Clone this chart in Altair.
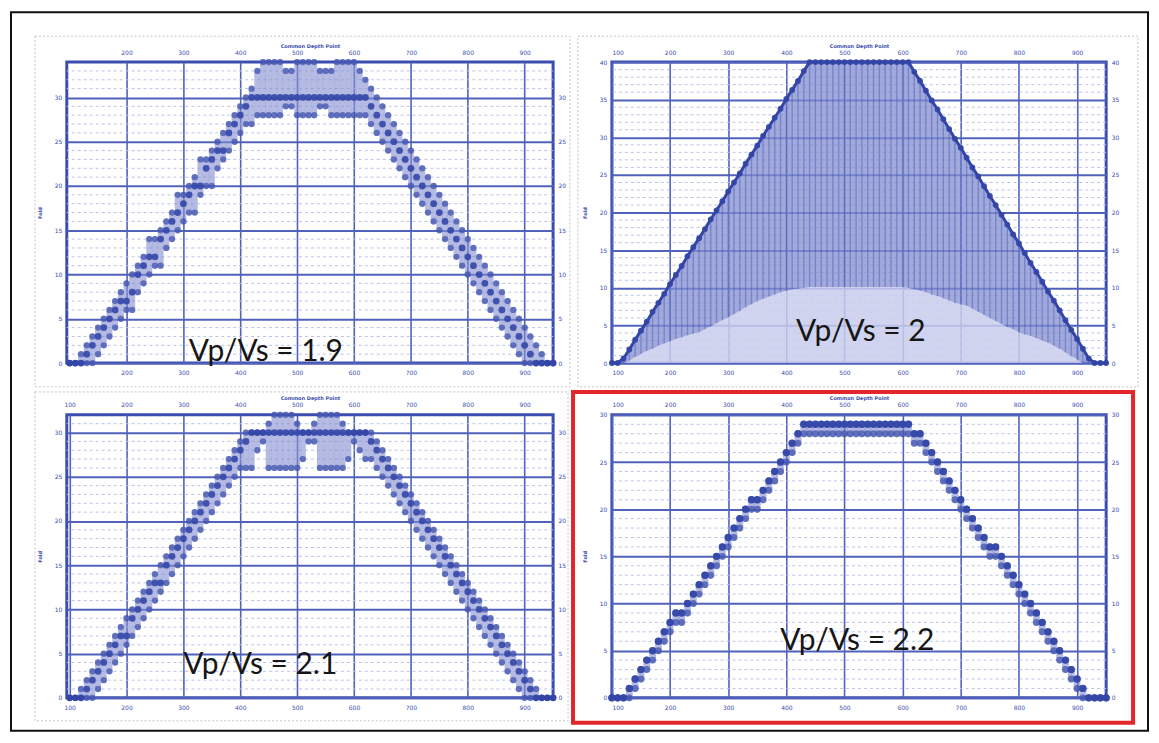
import altair as alt
import pandas as pd

# ---------------- data ----------------
cdp = [100, 110, 120, 130, 140, 150, 160, 170, 180, 190,
       200, 210, 220, 230, 240, 250, 260, 270, 280, 290,
       300, 310, 320, 330, 340, 350, 360, 370, 380, 390,
       400, 410, 420, 430, 440, 450, 460, 470, 480, 490,
       500, 510, 520, 530, 540, 550, 560, 570, 580, 590,
       600, 610, 620, 630, 640, 650, 660, 670, 680, 690,
       700, 710, 720, 730, 740, 750, 760, 770, 780, 790,
       800, 810, 820, 830, 840, 850, 860, 870, 880, 890,
       900, 910, 920, 930, 940, 950]

# Vp/Vs = 1.9
p1_mid = [0, 0, 0, 1, 2, 3, 4, 5, 6, 7,
          7, 8, 10, 11, 12, 12, 14, 15, 16, 17,
          18, 19, 20, 20, 22, 23, 24, 24, 26, 27,
          28, 29, 30, 30, 30, 30, 30, 30, 30, 30,
          30, 30, 30, 30, 30, 30, 30, 30, 30, 30,
          30, 30, 30, 29, 28, 27, 26, 25, 24, 23,
          22, 21, 20, 19, 18, 17, 16, 15, 14, 13,
          12, 11, 10, 9, 8, 7, 6, 5, 4, 3,
          2, 1, 0, 0, 0, 0]
p1_lo = [0, 0, 0, 0, 0, 1, 2, 3, 4, 5,
         6, 6, 8, 9, 10, 11, 11, 13, 14, 15,
         16, 17, 17, 19, 20, 20, 22, 23, 24, 25,
         26, 27, 27, 28, 28, 28, 28, 28, 29, 29,
         28, 28, 28, 28, 29, 29, 28, 28, 28, 28,
         28, 28, 28, 27, 26, 25, 24, 23, 22, 21,
         20, 19, 18, 17, 16, 15, 14, 13, 12, 11,
         10, 9, 8, 7, 6, 5, 4, 3, 2, 1,
         0, 0, 0, 0, 0, 0]
p1_hi = [0, 0, 1, 2, 3, 4, 5, 6, 7, 8,
         9, 10, 11, 12, 14, 14, 15, 16, 17, 19,
         19, 20, 21, 23, 23, 24, 25, 26, 27, 28,
         29, 30, 31, 33, 34, 34, 34, 34, 33, 33,
         34, 34, 34, 34, 33, 33, 33, 34, 34, 34,
         34, 33, 32, 31, 30, 29, 28, 27, 26, 25,
         24, 23, 22, 21, 20, 19, 18, 17, 16, 15,
         14, 13, 12, 11, 10, 9, 8, 7, 6, 5,
         4, 3, 2, 1, 0, 0]

# Vp/Vs = 2
p2_top = [0, 0, 0.6, 1.8, 3.1, 4.3, 5.5, 6.8, 8.0, 9.2,
          10.5, 11.7, 12.9, 14.2, 15.4, 16.6, 17.8, 19.1, 20.3, 21.5,
          22.8, 24.0, 25.2, 26.5, 27.7, 28.9, 30.2, 31.4, 32.6, 33.8,
          35.1, 36.3, 37.5, 38.8, 40, 40, 40, 40, 40, 40,
          40, 40, 40, 40, 40, 40, 40, 40, 40, 40,
          40, 40, 38.7, 37.5, 36.2, 34.9, 33.7, 32.4, 31.1, 29.8,
          28.6, 27.3, 26.0, 24.8, 23.5, 22.2, 21.0, 19.7, 18.4, 17.1,
          15.9, 14.6, 13.3, 12.1, 10.8, 9.5, 8.3, 7.0, 5.7, 4.4,
          3.2, 1.9, 0.6, 0, 0, 0]
p2_low = [0, 0, 0, 0.3, 0.8, 1.2, 1.6, 1.9, 2.3, 2.6,
          2.9, 3.2, 3.4, 3.7, 3.9, 4.1, 4.5, 4.9, 5.3, 5.7,
          6.1, 6.5, 6.9, 7.4, 7.8, 8.2, 8.5, 8.8, 9.1, 9.4,
          9.6, 9.8, 9.9, 10, 10.1, 10.1, 10.1, 10.1, 10.1, 10.1,
          10.1, 10.1, 10.1, 10.1, 10.1, 10.1, 10.1, 10.1, 10.1, 10.1,
          10.1, 10, 9.8, 9.6, 9.4, 9.1, 8.9, 8.6, 8.3, 8.0,
          7.8, 7.6, 7.2, 6.8, 6.4, 6.0, 5.6, 5.2, 4.8, 4.5,
          4.1, 3.8, 3.6, 3.3, 3.0, 2.7, 2.3, 1.9, 1.4, 0.9,
          0.5, 0, 0, 0, 0, 0]

# Vp/Vs = 2.1
p3_mid = [0, 0, 0, 1, 2, 3, 4, 5, 6, 7,
          7, 9, 10, 11, 12, 13, 13, 15, 16, 17,
          18, 19, 20, 21, 22, 23, 24, 25, 26, 27,
          28, 29, 30, 30, 30, 30, 30, 30, 30, 30,
          30, 30, 30, 30, 30, 30, 30, 30, 30, 30,
          30, 30, 30, 29, 28, 27, 26, 25, 24, 23,
          22, 21, 20, 19, 18, 17, 16, 15, 14, 13,
          12, 11, 10, 9, 8, 7, 6, 5, 4, 3,
          2, 1, 0, 0, 0, 0]
p3_lo = [0, 0, 0, 0, 0, 1, 2, 3, 4, 5,
         6, 7, 8, 9, 10, 11, 12, 13, 14, 15,
         16, 17, 18, 19, 20, 21, 22, 23, 24, 25,
         26, 26, 26, 28, 29, 26, 26, 26, 26, 26,
         26, 27, 29, 29, 26, 26, 26, 26, 26, 27,
         29, 28, 27, 27, 26, 25, 24, 23, 22, 21,
         20, 19, 18, 17, 16, 15, 14, 13, 12, 11,
         10, 9, 8, 7, 6, 5, 4, 3, 2, 1,
         0, 0, 0, 0, 0, 0]
p3_hi = [0, 0, 1, 2, 3, 4, 5, 6, 7, 8,
         9, 10, 11, 12, 13, 14, 15, 16, 17, 18,
         19, 20, 21, 22, 23, 24, 25, 26, 27, 28,
         29, 30, 30, 30, 30, 31, 32, 32, 32, 32,
         31, 30, 30, 31, 32, 32, 32, 32, 31, 30,
         30, 30, 30, 30, 29, 28, 27, 26, 25, 24,
         23, 22, 21, 20, 19, 18, 17, 16, 15, 14,
         13, 12, 11, 10, 9, 8, 7, 6, 5, 4,
         3, 2, 1, 0, 0, 0]

# Vp/Vs = 2.2
p4_mid = [0, 0, 0, 1, 2, 3, 4, 5, 6, 7,
          8, 9, 9, 10, 11, 12, 13, 14, 15, 16,
          17, 18, 19, 20, 21, 21, 22, 23, 24, 25,
          26, 27, 28, 29, 29, 29, 29, 29, 29, 29,
          29, 29, 29, 29, 29, 29, 29, 29, 29, 29,
          29, 29, 28, 28, 27, 26, 25, 24, 23, 22,
          21, 20, 19, 18, 17, 16, 16, 15, 14, 13,
          12, 11, 10, 9, 8, 7, 6, 5, 4, 3,
          2, 1, 0, 0, 0, 0]
p4_lo = [0, 0, 0, 0, 1, 2, 3, 4, 5, 6,
         7, 8, 8, 9, 10, 11, 12, 13, 14, 15,
         16, 17, 18, 19, 20, 20, 21, 22, 23, 24,
         25, 26, 27, 28, 28, 28, 28, 28, 28, 28,
         28, 28, 28, 28, 28, 28, 28, 28, 28, 28,
         28, 28, 27, 27, 26, 25, 24, 23, 22, 21,
         20, 19, 18, 17, 16, 15, 15, 14, 13, 12,
         11, 10, 9, 8, 7, 6, 5, 4, 3, 2,
         1, 0, 0, 0, 0, 0]

x_ticks = [100, 200, 300, 400, 500, 600, 700, 800, 900]
labels = ["Vp/Vs = 1.9", "Vp/Vs = 2", "Vp/Vs = 2.1", "Vp/Vs = 2.2"]
label_x = [445, 528, 435, 522]
label_y = [1.2, 4.1, 3.7, 6.0]

# ---------------- styling ----------------
BLUE = "#3b4dae"
GRID = "#5062bc"
MINOR = "#bcc2e6"
MARK = "#3346a7"
LIGHT = "#c9cdec"
MED = "#838dd0"

one = pd.DataFrame({"a": [0]})


def axis_kw():
    return dict(labelFontSize=6, labelColor=BLUE, labelFont="DejaVu Sans",
                ticks=False, domain=False, titleFont="DejaVu Sans",
                titleFontSize=5, titleColor=BLUE, titleFontWeight="bold")


def enc_x(xs, orient, xvals, title):
    ax = alt.Axis(orient=orient, values=xvals, grid=(orient == "bottom"),
                  gridColor=GRID, gridWidth=1.6, title=title,
                  labelPadding=7, titlePadding=1, format="d", **axis_kw())
    return alt.X("cdp:Q", scale=xs, axis=ax)


def enc_y(field, ys, orient, yvals, title):
    ax = alt.Axis(orient=orient, values=yvals, grid=(orient == "left"),
                  gridColor=GRID, gridWidth=2, title=title,
                  labelPadding=5, titlePadding=12, format="d", **axis_kw())
    return alt.Y(field + ":Q", scale=ys, axis=ax)


def minor_layer(ys, ymax):
    mv = pd.DataFrame({"v": [v for v in range(1, ymax) if v % 5]})
    return alt.Chart(mv).mark_rule(color=MINOR, strokeWidth=1, strokeDash=[3, 3]).encode(
        y=alt.Y("v:Q", scale=ys, axis=None))


def label_layer(i, xs, ys):
    d = pd.DataFrame({"t": [labels[i]], "x": [label_x[i]], "y": [label_y[i]]})
    return alt.Chart(d).mark_text(font="Lato", fontSize=30, color="#161616").encode(
        x=alt.X("x:Q", scale=xs, axis=None), y=alt.Y("y:Q", scale=ys, axis=None), text="t:N")


def frame(x1, x2, y1, y2, color, width, dash=None):
    kw = dict(fillOpacity=0, stroke=color, strokeWidth=width)
    if dash:
        kw["strokeDash"] = dash
    return alt.Chart(one).mark_rect(**kw).encode(
        x=alt.value(x1), x2=alt.value(x2), y=alt.value(y1), y2=alt.value(y2))


def scatter_panel(i, lo, mid, hi, xdom, ymax, w, h, xvals, extra, size=40, band_w=6):
    xs = alt.Scale(domain=xdom, nice=False, zero=False)
    ys = alt.Scale(domain=[0, ymax], nice=False)
    yvals = [v for v in range(0, ymax + 1, 5)]
    df = pd.DataFrame({"cdp": cdp, "lo": lo, "mid": mid, "hi": hi})
    base = alt.Chart(df)
    band = base.mark_rule(color=MED, strokeWidth=band_w, opacity=0.6, strokeCap="round").encode(
        x=alt.X("cdp:Q", scale=xs, axis=None), y=alt.Y("lo:Q", scale=ys, axis=None), y2="hi:Q")
    plo = base.mark_circle(size=size, color=MARK, opacity=0.65).encode(
        x=enc_x(xs, "bottom", xvals, ""), y=enc_y("lo", ys, "left", yvals, "Fold"))
    phi = base.mark_circle(size=size, color=MARK, opacity=0.65).encode(
        x=alt.X("cdp:Q", scale=xs, axis=None), y=alt.Y("hi:Q", scale=ys, axis=None))
    pmid = base.mark_circle(size=size + 6, color=MARK, opacity=0.9).encode(
        x=enc_x(xs, "top", xvals, "Common Depth Point"), y=enc_y("mid", ys, "right", yvals, ""))
    layers = [minor_layer(ys, ymax), band, plo, phi, pmid, label_layer(i, xs, ys)] + extra
    return alt.layer(*layers).properties(width=w, height=h)


def fill_panel(i, low, top, xdom, ymax, w, h, xvals, extra):
    xs = alt.Scale(domain=xdom, nice=False, zero=False)
    ys = alt.Scale(domain=[0, ymax], nice=False)
    yvals = [v for v in range(0, ymax + 1, 5)]
    df = pd.DataFrame({"cdp": cdp, "low": low, "top": top})
    base = alt.Chart(df)
    light = base.mark_area(color=LIGHT, opacity=0.85).encode(
        x=enc_x(xs, "bottom", xvals, ""), y=enc_y("low", ys, "left", yvals, "Fold"))
    med = base.mark_area(color=MED, opacity=0.75).encode(
        x=alt.X("cdp:Q", scale=xs, axis=None), y=alt.Y("top:Q", scale=ys, axis=None), y2="low:Q")
    stripes = base.mark_rule(color=BLUE, strokeWidth=1.4, opacity=0.4).encode(
        x=alt.X("cdp:Q", scale=xs, axis=None), y=alt.Y("low:Q", scale=ys, axis=None), y2="top:Q")
    edge_line = base.mark_line(color=MARK, strokeWidth=3).encode(
        x=alt.X("cdp:Q", scale=xs, axis=None), y=alt.Y("top:Q", scale=ys, axis=None))
    edge = base.mark_circle(size=34, color=MARK, opacity=0.95).encode(
        x=enc_x(xs, "top", xvals, "Common Depth Point"), y=enc_y("top", ys, "right", yvals, ""))
    layers = [minor_layer(ys, ymax), light, med, stripes, edge_line, edge,
              label_layer(i, xs, ys)] + extra
    return alt.layer(*layers).properties(width=w, height=h)


p1 = scatter_panel(0, p1_lo, p1_mid, p1_hi, [95, 950], 34, 488, 302, x_ticks[1:],
                   [frame(-32, 505, -26, 326, "#c4c4c4", 1, [2, 2]),
                    frame(-56, 1085, -50, 671, "#111111", 2)])
p2 = fill_panel(1, p2_low, p2_top, [100, 950], 40, 496, 302, x_ticks,
                [frame(-34, 528, -26, 326, "#c4c4c4", 1, [2, 2])])
p3 = scatter_panel(2, p3_lo, p3_mid, p3_hi, [95, 950], 32, 488, 284, x_ticks,
                   [frame(-32, 503, -23, 307, "#c4c4c4", 1, [2, 2])])
p4 = scatter_panel(3, p4_lo, p4_mid, p4_mid, [100, 950], 30, 496, 284, x_ticks,
                   [frame(-39, 523, -23, 309, "#e3262a", 4)], size=48, band_w=7)

chart = alt.concat(p1, p2, p3, p4, columns=2, spacing={"row": 52, "column": 59},
                   bounds="flush", align="each").properties(
    padding=0, background="white"
).configure_view(stroke=BLUE, strokeWidth=3)

chart.save("out.html", embed_options={"renderer": "svg", "actions": False})
